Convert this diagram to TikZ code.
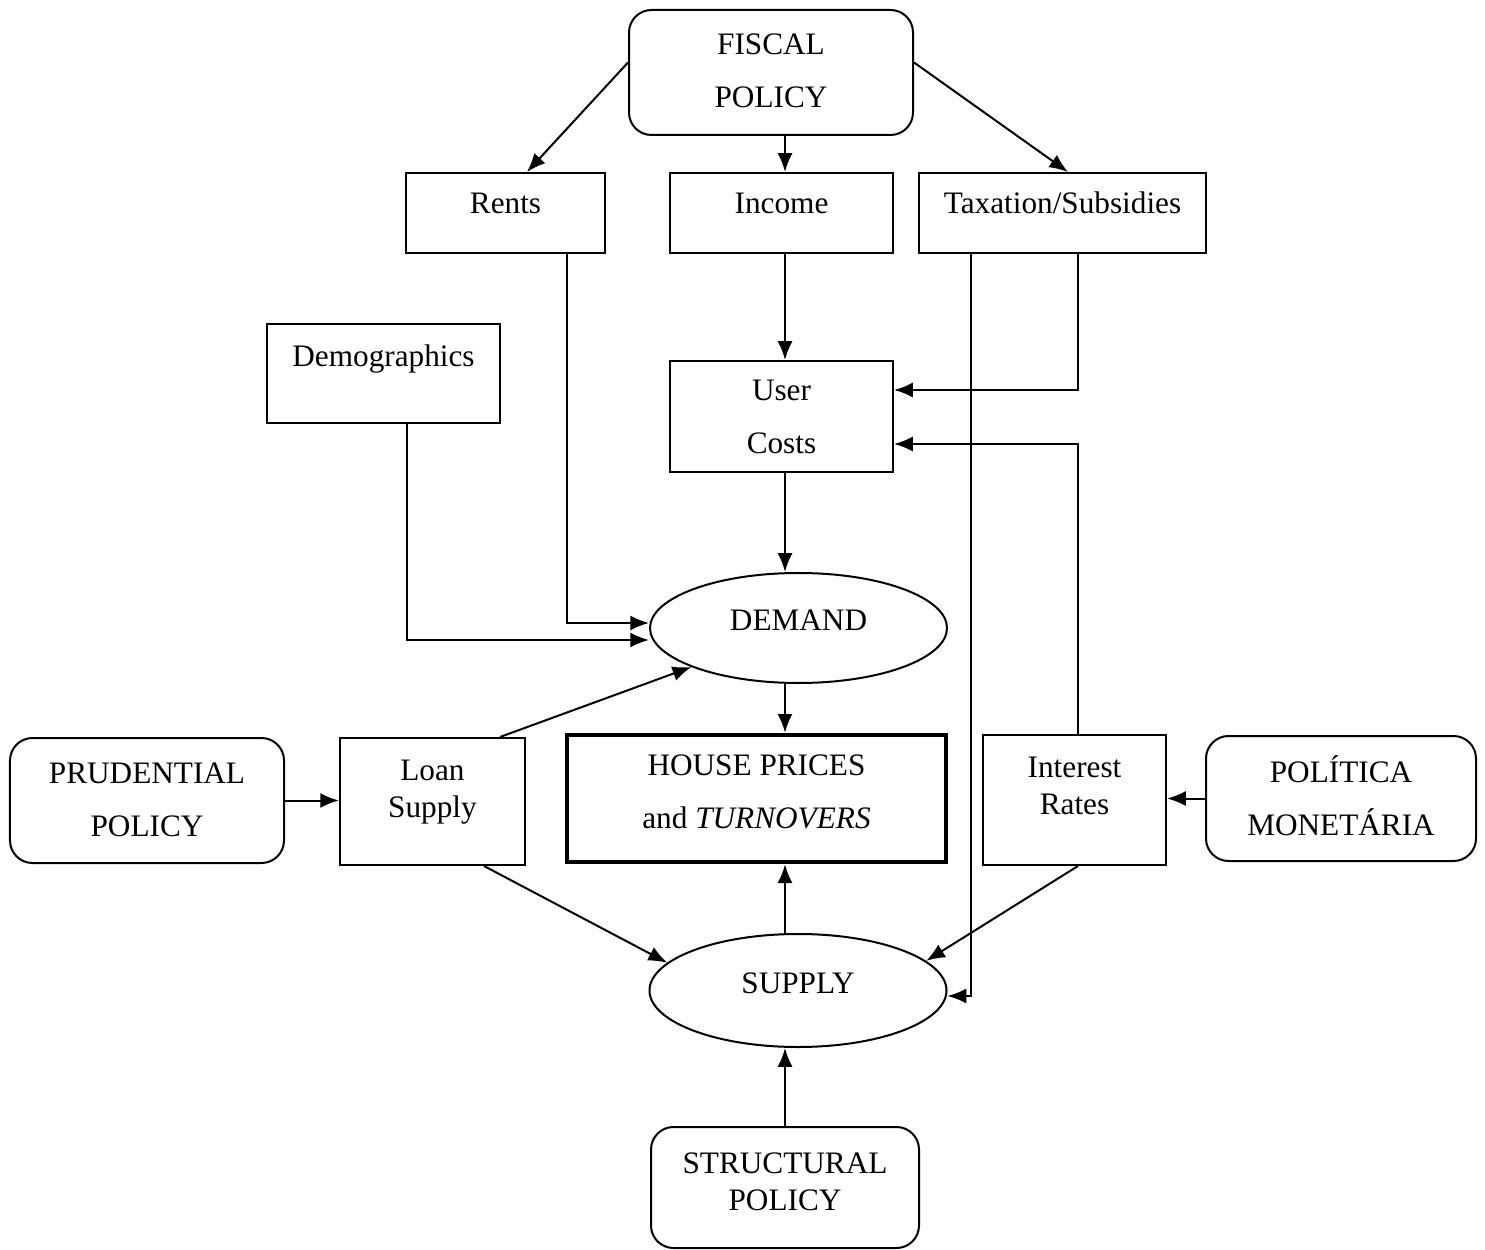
\documentclass[tikz,border=0pt]{standalone}
\usepackage{fontspec}
\setmainfont{Liberation Serif}
\usetikzlibrary{arrows.meta,shapes.geometric}
\begin{document}
\begin{tikzpicture}[x=0.4pt,y=-0.4pt]
% Styles
\tikzstyle{boite}=[draw,line width=0.8pt,rectangle,inner sep=0pt,align=center,font=\fontsize{12.5}{21.2}\selectfont]
\tikzstyle{arrondi}=[boite,rounded corners=9pt]
\tikzstyle{serre}=[font=\fontsize{12.5}{14.8}\selectfont]
\tikzstyle{ovale}=[draw,line width=0.8pt,ellipse,inner sep=0pt,minimum width=118.8pt,font=\fontsize{12.5}{15}\selectfont]
\tikzstyle{lien}=[-{Latex[length=7.5pt,width=6pt]},line width=0.8pt]
% Cadre de l'image
\useasboundingbox (0,0) rectangle (1485,1250);
\coordinate (axe) at (785,0);
% Politique budgétaire et ses canaux
\node[arrondi,minimum width=113.6pt,text height=39.2pt,text depth=10.8pt] (budget) at (771,72.5) {FISCAL\\POLICY};
\node[boite,minimum width=79.6pt,text height=16.4pt,text depth=15.6pt] (loyers) at (505.5,213) {Rents};
\node[boite,minimum width=89.2pt,text height=16.4pt,text depth=15.6pt] (revenu) at (781.5,213) {Income};
\node[boite,minimum width=114.8pt,text height=16.4pt,text depth=15.6pt] (impots) at (1062.5,213) {Taxation/Subsidies};
% Demande
\node[boite,minimum width=93.2pt,text height=17.2pt,text depth=22.4pt] (demo) at (383.5,373.5) {Demographics};
\node[boite,minimum width=89.2pt,text height=37.2pt,text depth=7.2pt] (cout) at (781.5,416.5) {User\\Costs};
\node[ovale,minimum height=44pt,text height=9pt,text depth=7.4pt] (demande) at (798.5,628) {DEMAND};
% Ligne du milieu
\node[arrondi,minimum width=109.6pt,text height=39.2pt,text depth=10.8pt] (prud) at (147,800.5) {PRUDENTIAL\\POLICY};
\node[boite,serre,minimum width=74pt,text height=31.6pt,text depth=19.2pt] (credit) at (432.5,801.5) {Loan\\Supply};
\node[boite,line width=1.8pt,minimum width=151.6pt,text height=37.2pt,text depth=13.6pt] (prix) at (756.5,798.5) {HOUSE PRICES\\and \textit{TURNOVERS}};
\node[boite,serre,minimum width=73.2pt,text height=31.6pt,text depth=20.4pt] (taux) at (1074.5,800) {Interest\\Rates};
\node[arrondi,minimum width=108pt,text height=39.6pt,text depth=10.4pt] (monet) at (1341,798.5) {POLÍTICA\\MONETÁRIA};
% Offre
\node[ovale,minimum height=45.2pt,text height=9pt,text depth=7pt] (offre) at (798,990.5) {SUPPLY};
\node[arrondi,serre,minimum width=107.2pt,text height=33.2pt,text depth=15.2pt] (struct) at (785,1187.5) {STRUCTURAL\\POLICY};
% Fleches
\draw[lien] ([yshift=4pt]budget.west) -- ([xshift=8.6pt]loyers.north);
\draw[lien] (budget.south -| axe) -- (revenu.north -| axe);
\draw[lien] ([yshift=4pt]budget.east) -- ([xshift=2.2pt]impots.north);
\draw[lien] (revenu.south -| axe) -- (cout.north -| axe);
\draw[lien] ([xshift=6.2pt]impots.south) |- ([yshift=10.6pt]cout.east);
\draw[lien] ([xshift=1.4pt]taux.north) |- ([yshift=-11pt]cout.east);
\draw[lien] (cout.south -| axe) -- (demande.north -| axe);
\draw[lien] ([xshift=24.6pt]loyers.south) |- ([yshift=2pt]demande.west);
\draw[lien] ([xshift=9.4pt]demo.south) |- ([yshift=-4.8pt]demande.west);
\draw[lien] ([xshift=27pt]credit.north) -- (demande.200);
\draw[lien] (demande.south -| axe) -- (prix.north -| axe);
\draw[lien] (prud.east) -- (prud.east -| credit.west);
\draw[lien] (monet.west) -- (monet.west -| taux.east);
\draw[lien] ([xshift=20.6pt]credit.south) -- (offre.168);
\draw[lien] ([xshift=1.4pt]taux.south) -- (offre.13);
\draw[lien] ([xshift=-36.6pt]impots.south) |- ([yshift=-2.2pt]offre.east);
\draw[lien] (offre.north -| axe) -- (prix.south -| axe);
\draw[lien] (struct.north) -- (struct.north |- offre.south);
\end{tikzpicture}
\end{document}
